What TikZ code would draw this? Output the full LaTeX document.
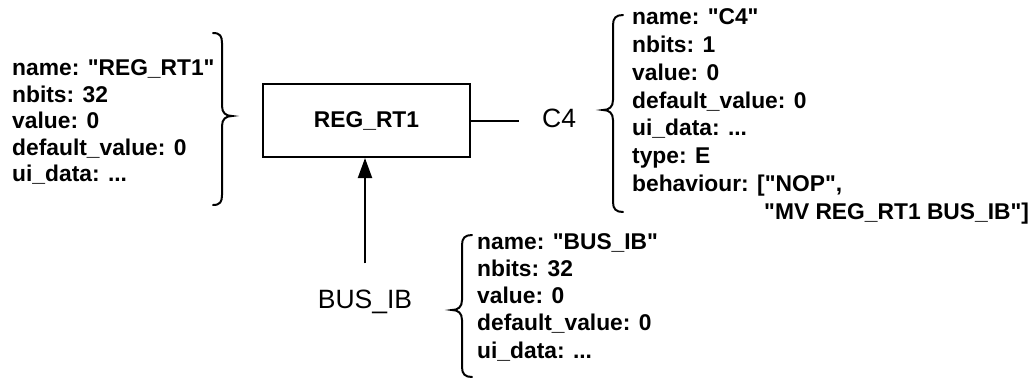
\documentclass[tikz,border=0pt]{standalone}
\usepackage{fontspec}
\setmainfont{Liberation Sans}[Ligatures=TeXOff]
\usetikzlibrary{arrows.meta}
\begin{document}
\begin{tikzpicture}[x=1pt,y=-1pt,
  attr/.style={anchor=north west, inner sep=0pt, align=left, font=\bfseries\fontsize{22.8}{26.5}\selectfont},
  lbl/.style={inner sep=0pt, font=\fontsize{26.5}{30}\selectfont},
  brc/.style={line width=2pt, line cap=round},
  conn/.style={line width=2pt}]
\useasboundingbox (0,0) rectangle (1036,381);
% attribute blocks
\node[attr] (regattr) at (12,59.5) {name: "REG\_RT1"\\nbits: 32\\value: 0\\default\_value: 0\\ui\_data: ...};
\node[attr, font=\bfseries\fontsize{22.8}{27.8}\selectfont] (c4attr) at (632,8.5) {name: "C4"\\nbits: 1\\value: 0\\default\_value: 0\\ui\_data: ...\\type: E\\behaviour: ["NOP",\\\hspace*{132pt}"MV REG\_RT1 BUS\_IB"]};
\node[attr, font=\bfseries\fontsize{22.8}{27.1}\selectfont] (busattr) at (477,233.5) {name: "BUS\_IB"\\nbits: 32\\value: 0\\default\_value: 0\\ui\_data: ...};
% register box
\node[draw, line width=2pt, minimum width=207pt, minimum height=73pt, inner sep=0pt,
      font=\bfseries\fontsize{22.8}{26}\selectfont] (reg) at (366.5,120.5) {REG\_RT1};
% labels
\node[lbl, anchor=base west, inner xsep=23pt] (c4) at (519,127.5) {C4};
\node[lbl, anchor=base] (bus) at (365,308) {BUS\_IB};
% connectors
\draw[conn] (reg.east) -- (c4.west |- reg.east);
\draw[conn, -{Triangle[length=20pt,width=14pt]}, shorten <=26pt] (bus.north) -- (bus.north |- reg.south);
% braces
\draw[brc] (213,33) .. controls (220,33) and (222,36) .. (222,43) -- (222,106)
  .. controls (222,113) and (226,116) .. (232,116)
  .. controls (226,116) and (222,119) .. (222,126) -- (222,195)
  .. controls (222,202) and (220,205) .. (213,205);
\draw[brc] (623,15) .. controls (616,15) and (613,18) .. (613,25) -- (613,100)
  .. controls (613,107) and (609,110) .. (603,110)
  .. controls (609,110) and (613,113) .. (613,120) -- (613,202)
  .. controls (613,209) and (616,212) .. (623,212);
\draw[brc] (472,235) .. controls (465,235) and (462,238) .. (462,245) -- (462,300)
  .. controls (462,307) and (458,310) .. (452,310)
  .. controls (458,310) and (462,313) .. (462,320) -- (462,367)
  .. controls (462,374) and (465,377) .. (472,377);
\end{tikzpicture}
\end{document}
